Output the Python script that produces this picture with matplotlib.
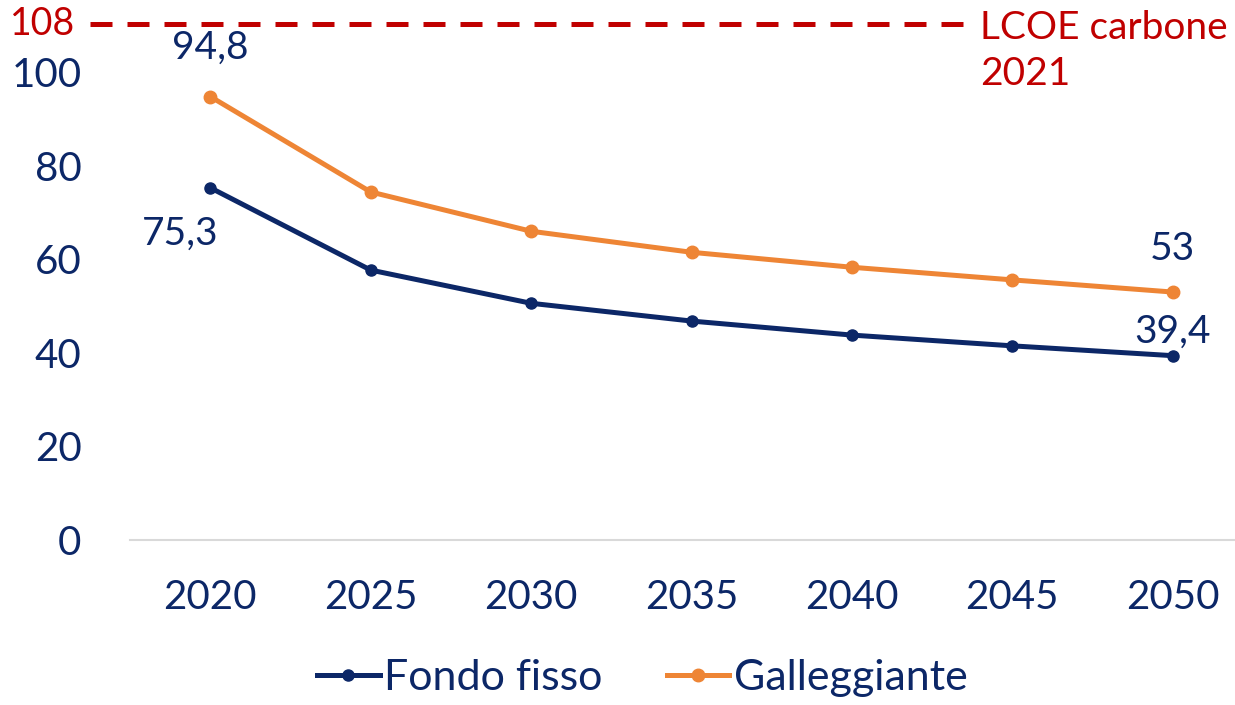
import matplotlib.pyplot as plt
from matplotlib.transforms import blended_transform_factory

plt.rcParams['font.family'] = ['Lato', 'DejaVu Sans']

years = ['2020', '2025', '2030', '2035', '2040', '2045', '2050']
fondo_fisso = [75.3, 57.7, 50.6, 46.8, 43.8, 41.5, 39.4]
galleggiante = [94.8, 74.4, 66.0, 61.5, 58.3, 55.6, 53.0]
lcoe_carbone = 108

navy = '#0C2767'
orange = '#EE8535'
red = '#C00000'

fig = plt.figure(figsize=(12.35, 7.05), dpi=100)
ax = fig.add_axes([130 / 1235, 165 / 705, 1123 / 1235, 538 / 705])

x = list(range(len(years)))
ax.plot(x, galleggiante, color=orange, lw=3.6, marker='o', ms=9, label='Galleggiante', zorder=3)
ax.plot(x, fondo_fisso, color=navy, lw=3.6, marker='o', ms=8, label='Fondo fisso', zorder=4)

ax.set_xlim(-0.5, len(years) - 0.5)
ax.set_ylim(0, 115)
ax.set_xticks(x)
ax.set_xticklabels(years)
ax.set_yticks([0, 20, 40, 60, 80, 100])
ax.tick_params(axis='both', length=0, labelsize=29, labelcolor=navy)
ax.tick_params(axis='x', pad=28)
ax.tick_params(axis='y', pad=35)
for s in ['top', 'right', 'left']:
    ax.spines[s].set_visible(False)
ax.spines['bottom'].set_color('#D9D9D9')
ax.spines['bottom'].set_linewidth(1.5)

# etichette dati
ax.annotate('94,8', (0, galleggiante[0]), xytext=(0, 22), textcoords='offset points',
            ha='center', va='bottom', fontsize=28, color=navy)
ax.annotate('75,3', (0, fondo_fisso[0]), xytext=(-22, -20), textcoords='offset points',
            ha='center', va='top', fontsize=28, color=navy)
ax.annotate('53', (6, galleggiante[6]), xytext=(0, 18), textcoords='offset points',
            ha='center', va='bottom', fontsize=28, color=navy)
ax.annotate('39,4', (6, fondo_fisso[6]), xytext=(0, 4), textcoords='offset points',
            ha='center', va='bottom', fontsize=28, color=navy)

# linea LCOE carbone (riferimento in alto)
tr = blended_transform_factory(ax.transData, fig.transFigure)
y_line = 1 - 24 / 705
ax.plot([-0.75, 4.7], [y_line, y_line], color=red, lw=3.6, ls=(0, (4.4, 3)),
        clip_on=False, zorder=2, transform=tr)
ax.text(-0.84, y_line, str(lcoe_carbone), color=red, fontsize=27, ha='right',
        va='center', clip_on=False, transform=tr)
ax.text(4.8, y_line + 0.02, 'LCOE carbone\n2021', color=red, fontsize=28, ha='left',
        va='top', linespacing=1.35, transform=tr)

handles, labels = ax.get_legend_handles_labels()
leg = fig.legend(handles[::-1], labels[::-1], loc='center', bbox_to_anchor=(0.52, 0.038),
                 ncol=2, frameon=False, fontsize=31, handlelength=1.45,
                 handletextpad=0.1, columnspacing=1.5)
for t in leg.get_texts():
    t.set_color(navy)

fig.savefig('out.png', dpi=100)
